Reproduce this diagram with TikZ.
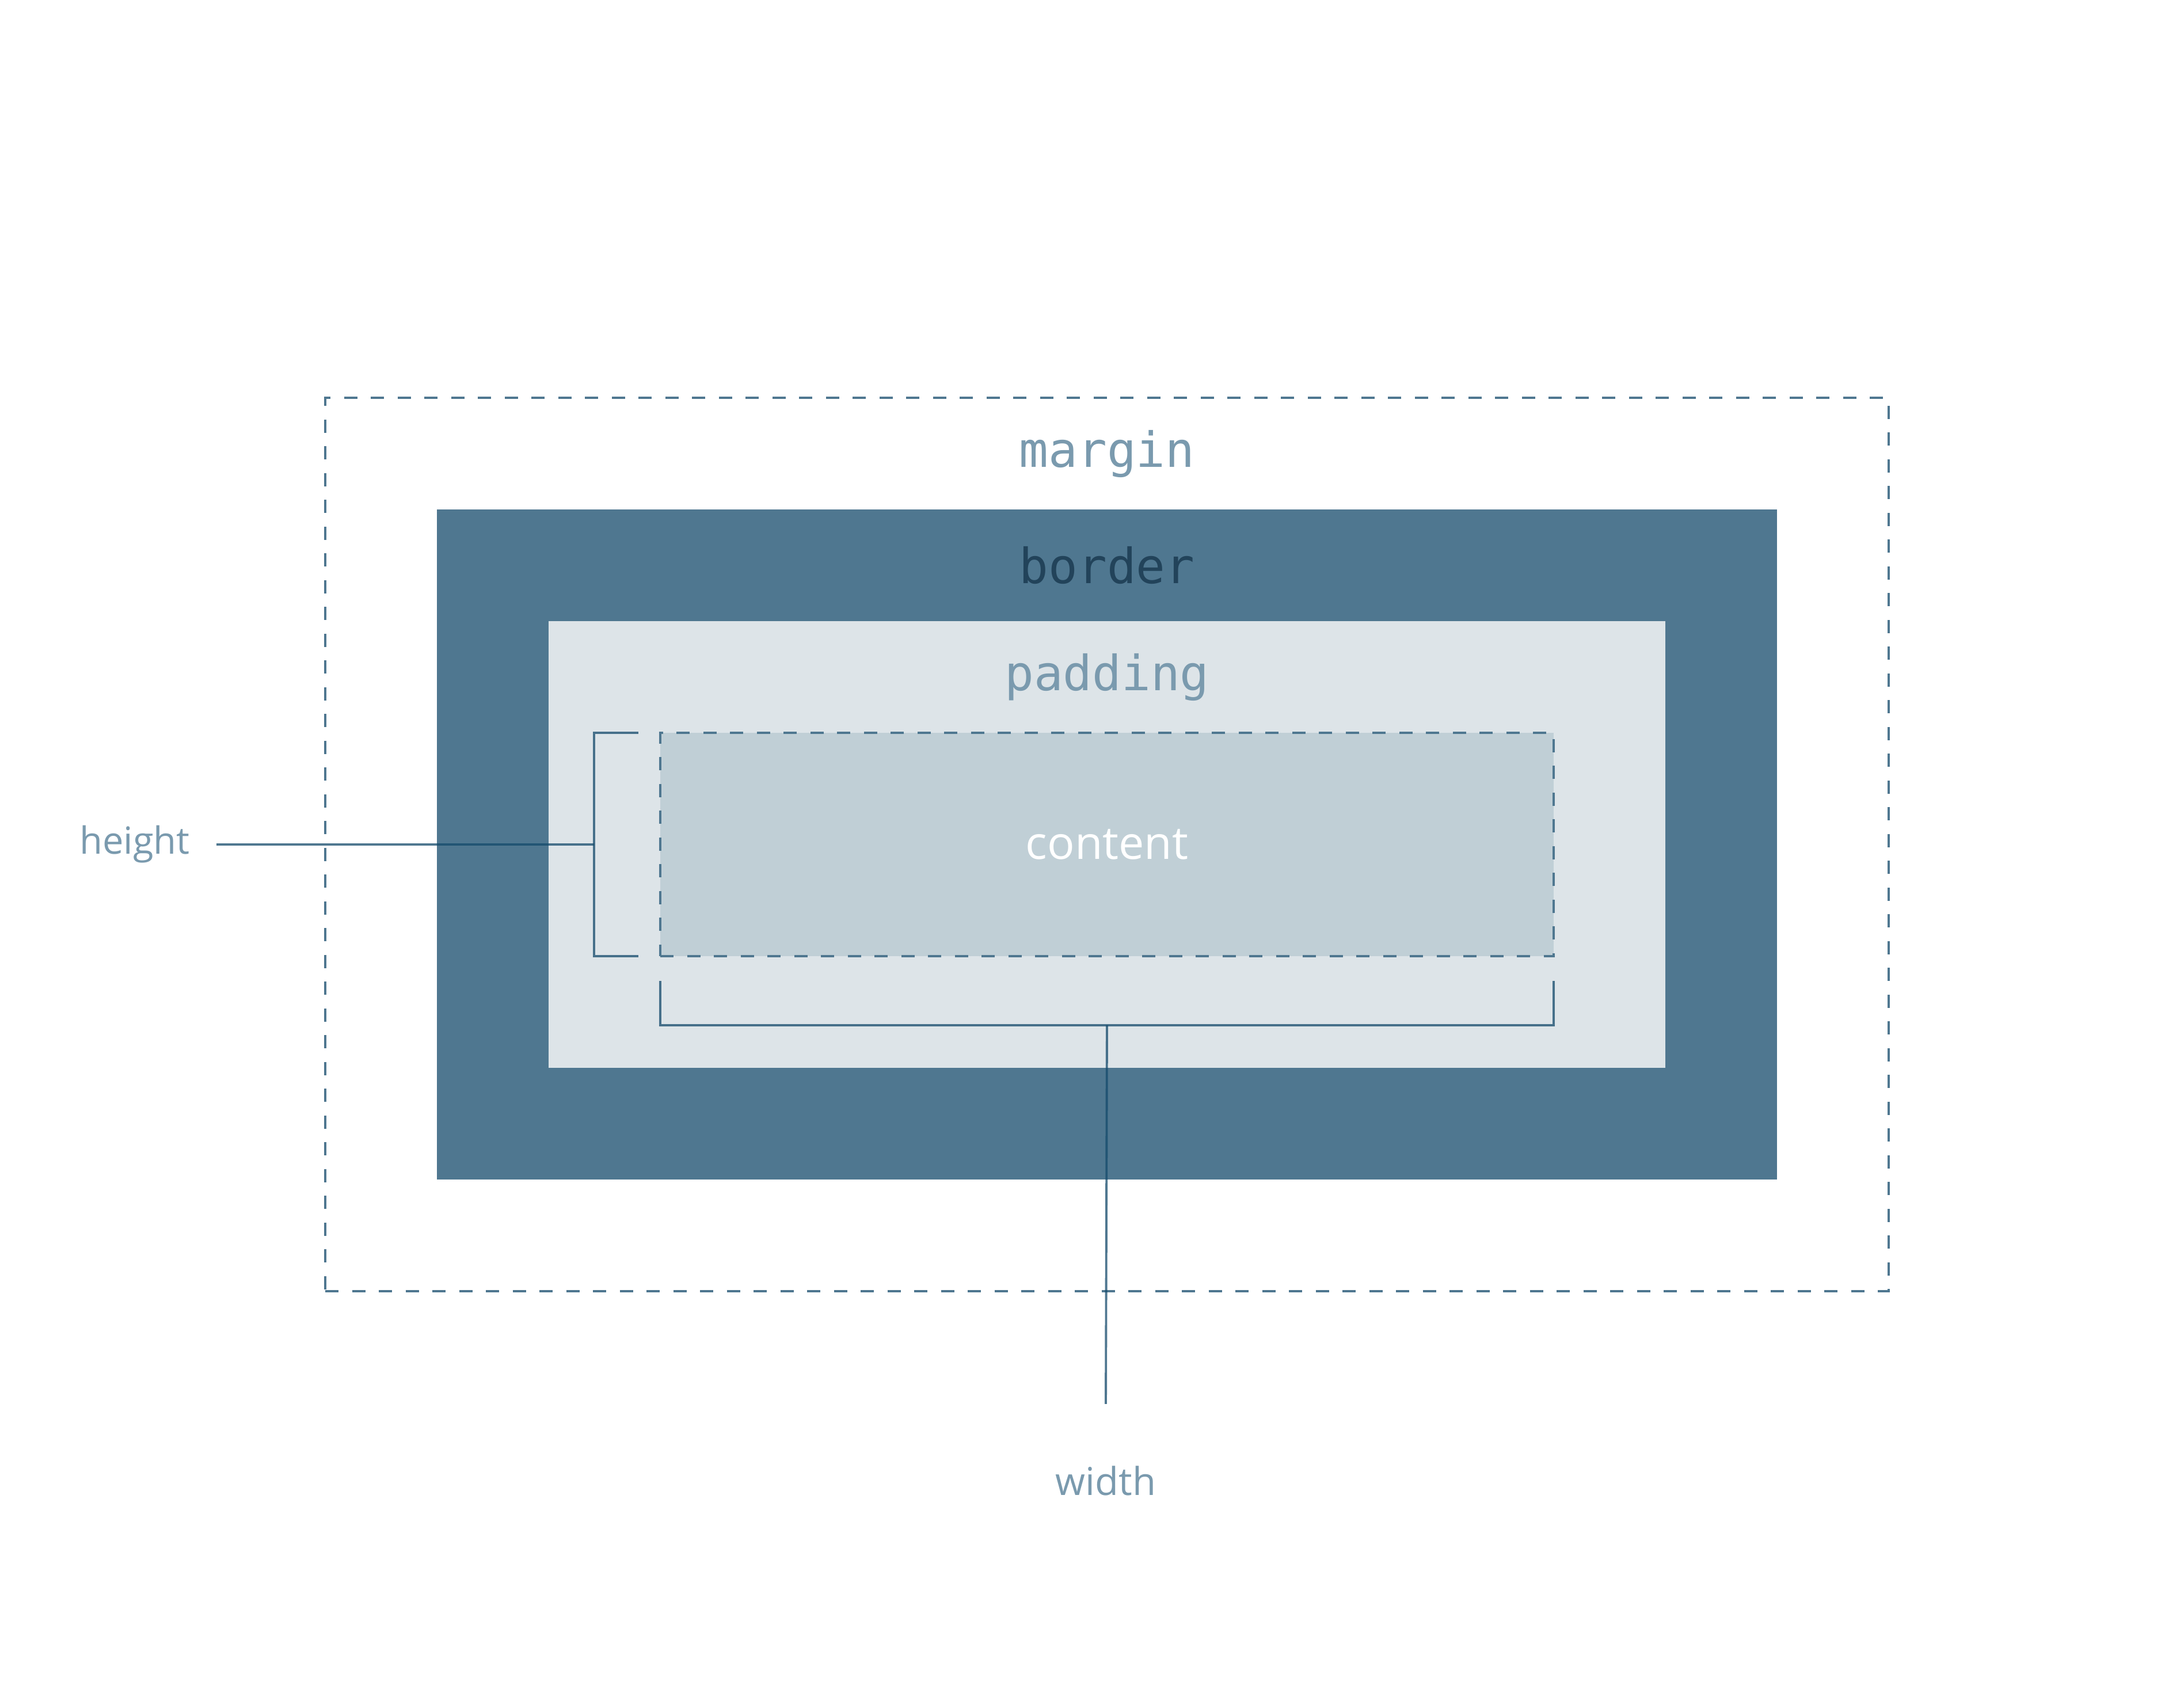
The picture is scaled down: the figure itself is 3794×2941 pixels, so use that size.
\documentclass[tikz,border=0pt]{standalone}
\usepackage{fontspec}
\setmainfont{Open Sans}
\setmonofont{DejaVu Sans Mono}
\usetikzlibrary{positioning,calc}
\usepackage{xcolor}

\definecolor{boxblue}{HTML}{4F7790}
\definecolor{labelgrey}{HTML}{7A9AAE}
\definecolor{darkblue}{HTML}{22435A}
\definecolor{padfill}{HTML}{DDE4E8}
\definecolor{contentfill}{HTML}{C0CFD6}
\definecolor{leadcol}{HTML}{144A6B}

\begin{document}
\begin{tikzpicture}[
    x=0.1mm, y=-0.1mm,
    box/.style={rectangle, inner sep=0pt, outer sep=0pt},
    dashedbox/.style={box, draw=boxblue, line width=1pt, dash pattern=on 2.3mm off 2.35mm},
    layer/.style={font=\ttfamily\fontsize{24}{28}\selectfont},
    dim/.style={font=\fontsize{18.5}{22}\selectfont, text=labelgrey},
    bracket/.style={draw=leadcol, line width=1.1pt, draw opacity=0.75}
]
\useasboundingbox (0,0) rectangle (3794,2941);

% Boxes
\coordinate (mid) at (1923,1467);
\node[dashedbox, minimum width=271.6mm, minimum height=155.2mm] (margin) at (mid) {};
\node[box, fill=boxblue, minimum width=232.8mm, minimum height=116.4mm] (border) at (mid) {};
\node[box, fill=padfill, minimum width=194mm, minimum height=77.6mm] (padding) at (mid) {};
\node[dashedbox, fill=contentfill, minimum width=155.2mm, minimum height=38.8mm] (content) at (mid) {};

% Layer names
\node[layer, text=labelgrey] (marginlbl) at ($(margin.north)!0.5!(border.north)$) {margin};
\node[layer, text=darkblue] (borderlbl) at ($(border.north)!0.5!(padding.north)$) {border};
\node[layer, text=labelgrey] (paddinglbl) at ($(padding.north)!0.5!(content.north)$) {padding};
\node[dim, text=white, font=\fontsize{22.5}{26}\selectfont] (contentlbl) at (content) {content};

% Height
\node[dim] (heightlbl) at (234,1467) {height};
\coordinate (hmid) at ($(content.west)+(-115,0)$);
\draw[bracket] ($(content.north west)+(-38,0)$) -- ++(-77,0)
    -- ($(content.south west)+(-115,0)$) -- ++(77,0);
\draw[bracket] ([xshift=3.4mm]heightlbl.east) -- (hmid);

% Width
\node[dim, font=\fontsize{19}{23}\selectfont] (widthlbl) at (1921,2572) {width};
\coordinate (wmid) at ($(content.south)+(0,120)$);
\coordinate (wend) at ($(widthlbl.north)+(0,-95)$);
\draw[bracket] ($(content.south west)+(0,43)$) -- ++(0,77)
    -- ($(content.south east)+(0,120)$) -- ++(0,-77);
\draw[bracket] (wmid) -- (wend);

\end{tikzpicture}
\end{document}
